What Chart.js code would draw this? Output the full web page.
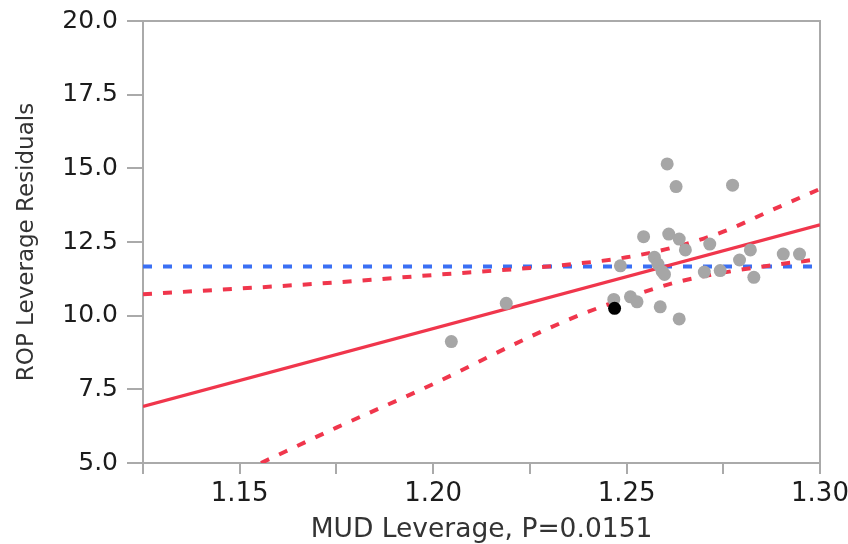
<!DOCTYPE html>
<html>
<head>
<meta charset="utf-8">
<script src="https://cdn.jsdelivr.net/npm/chart.js@4.4.1/dist/chart.umd.min.js"></script>
<style>
  html, body { margin: 0; padding: 0; background: #ffffff; }
  #wrap { width: 848px; height: 544px; }
  canvas { display: block; }
</style>
</head>
<body>
<div id="wrap"><canvas id="chart" width="848" height="544"></canvas></div>
<script>
// Leverage plot: ROP residuals against MUD leverage
const mudLeverage = [1.2605, 1.2628, 1.2774, 1.2544, 1.2609, 1.2636, 1.2652, 1.2715, 1.2820,
  1.2905, 1.2947, 1.2792, 1.2484, 1.2572, 1.2581, 1.2592, 1.2598, 1.2701, 1.2742, 1.2829,
  1.2467, 1.2510, 1.2527, 1.2587, 1.2636, 1.2189, 1.2047];
const ropResiduals = [15.15, 14.38, 14.43, 12.68, 12.77, 12.60, 12.23, 12.43, 12.23,
  12.09, 12.09, 11.89, 11.69, 11.98, 11.75, 11.50, 11.40, 11.48, 11.53, 11.30,
  10.55, 10.64, 10.47, 10.30, 9.89, 10.42, 9.12];

// highlighted (selected) row
const selectedLeverage = [1.2469];
const selectedResidual = [10.25];

// least-squares fit line
const fitX = [1.125, 1.30];
const fitY = [6.92, 13.08];

// horizontal line at the response mean
const meanX = [1.125, 1.30];
const meanY = [11.67, 11.67];

// confidence curves
const upperX = [1.125, 1.15, 1.175, 1.20, 1.225, 1.2375, 1.25, 1.2625, 1.275, 1.2875, 1.30];
const upperY = [10.73, 10.92, 11.13, 11.38, 11.62, 11.77, 11.98, 12.33, 12.85, 13.58, 14.30];
const lowerX = [1.1555, 1.175, 1.20, 1.225, 1.2375, 1.25, 1.2625, 1.275, 1.2875, 1.30];
const lowerY = [5.00, 6.20, 7.68, 9.28, 10.00, 10.60, 11.12, 11.46, 11.71, 11.92];

// axis ticks
const yTicks = [5.0, 7.5, 10.0, 12.5, 15.0, 17.5, 20.0];
const xTickLabels = [1.15, 1.20, 1.25, 1.30];
const xMin = 1.125, xMax = 1.30, xStep = 0.025;

const toPoints = (xs, ys) => xs.map((x, i) => ({ x: x, y: ys[i] }));

const RED = '#f0364c';
const BLUE = '#3a6ff4';
const AXIS = '#aaaaaa';
const FONT = "'DejaVu Sans', Verdana, sans-serif";

// outline the top and right edges of the plot frame
const framePlugin = {
  id: 'frame',
  beforeDatasetsDraw(chart) {
    const { ctx, chartArea: a } = chart;
    ctx.save();
    ctx.strokeStyle = AXIS;
    ctx.lineWidth = 2;
    ctx.beginPath();
    ctx.moveTo(a.left, a.top);
    ctx.lineTo(a.right, a.top);
    ctx.lineTo(a.right, a.bottom);
    ctx.stroke();
    ctx.restore();
  }
};

const lineStyle = (color, dash, width) => ({
  type: 'line',
  showLine: true,
  borderColor: color,
  backgroundColor: color,
  borderWidth: width,
  borderDash: dash,
  pointRadius: 0,
  pointHoverRadius: 0,
  fill: false,
  cubicInterpolationMode: 'monotone'
});

new Chart(document.getElementById('chart'), {
  type: 'scatter',
  data: {
    datasets: [
      {
        label: 'Selected',
        data: toPoints(selectedLeverage, selectedResidual),
        backgroundColor: '#000000',
        borderColor: '#000000',
        pointRadius: 6.5,
        borderWidth: 0,
        order: 0
      },
      {
        label: 'Rows',
        data: toPoints(mudLeverage, ropResiduals),
        backgroundColor: '#a6a6a6',
        borderColor: '#a6a6a6',
        pointRadius: 6.5,
        borderWidth: 0,
        order: 1
      },
      Object.assign(lineStyle(RED, [], 3.2), { label: 'Fit', data: toPoints(fitX, fitY), order: 2 }),
      Object.assign(lineStyle(RED, [9, 11], 4), { label: 'Upper', data: toPoints(upperX, upperY), order: 3 }),
      Object.assign(lineStyle(RED, [9, 11], 4), { label: 'Lower', data: toPoints(lowerX, lowerY), order: 4 }),
      Object.assign(lineStyle(BLUE, [9, 11], 4), { label: 'Mean', data: toPoints(meanX, meanY), order: 5 })
    ]
  },
  options: {
    responsive: false,
    maintainAspectRatio: false,
    animation: false,
    devicePixelRatio: 1,
    layout: { padding: { top: 21, right: 28, left: 0, bottom: 0 } },
    plugins: {
      legend: { display: false },
      tooltip: { enabled: false },
      title: { display: false }
    },
    scales: {
      x: {
        type: 'linear',
        min: xMin,
        max: xMax,
        afterFit(scale) {
          scale.height = 81;
          scale.paddingLeft = 0;
          scale.paddingRight = 0;
        },
        afterBuildTicks(scale) {
          const t = [];
          for (let v = xMin; v <= xMax + 1e-9; v += xStep) t.push({ value: +v.toFixed(3) });
          scale.ticks = t;
        },
        ticks: {
          color: '#1c1c1c',
          font: { family: FONT, size: 26 },
          padding: 5,
          maxRotation: 0,
          autoSkip: false,
          callback(value) {
            const hit = xTickLabels.find(v => Math.abs(v - value) < 1e-6);
            return hit === undefined ? '' : hit.toFixed(2);
          }
        },
        grid: { display: true, drawOnChartArea: false, drawTicks: true, tickLength: 11, color: AXIS, lineWidth: 2 },
        border: { display: true, color: AXIS, width: 2 },
        title: {
          display: true,
          text: 'MUD Leverage, P=0.0151',
          color: '#333333',
          font: { family: FONT, size: 26.5, lineHeight: 1 },
          padding: { top: 0, bottom: 1 }
        }
      },
      y: {
        type: 'linear',
        min: 5,
        max: 20,
        afterFit(scale) {
          scale.width = 143;
          scale.paddingTop = 0;
          scale.paddingBottom = 0;
        },
        afterBuildTicks(scale) { scale.ticks = yTicks.map(v => ({ value: v })); },
        ticks: {
          color: '#1c1c1c',
          font: { family: FONT, size: 25 },
          padding: 9,
          callback(value) { return Number(value).toFixed(1); }
        },
        grid: { display: true, drawOnChartArea: false, drawTicks: true, tickLength: 16, color: AXIS, lineWidth: 2 },
        border: { display: true, color: AXIS, width: 2 },
        title: {
          display: true,
          text: 'ROP Leverage Residuals',
          color: '#333333',
          font: { family: FONT, size: 23 },
          padding: { top: 13, bottom: 0 }
        }
      }
    }
  },
  plugins: [framePlugin]
});
</script>
</body>
</html>
